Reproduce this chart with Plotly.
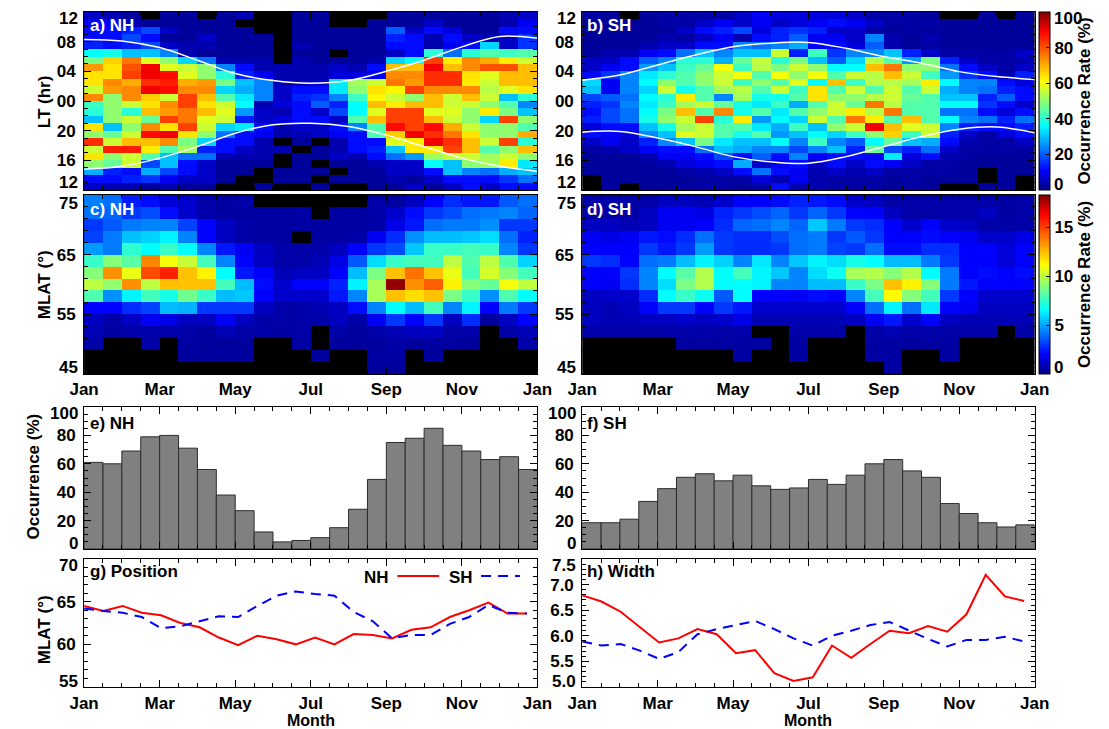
import plotly.graph_objects as go

W, H = 1109, 729
FONT = "Liberation Sans"
K = None  # bin without observations (shown black)

# ---------------- axes / bins ----------------
month_tickvals = [0, 2, 4, 6, 8, 10, 12]
month_ticktext = ["Jan", "Mar", "May", "Jul", "Sep", "Nov", "Jan"]
bin_month = [0.25 + 0.5 * i for i in range(24)]      # half-month bins
lt_bin = [11.5 - i for i in range(24)]               # LT bins, noon at top
mlat_bin = [74 - 2 * i for i in range(15)]           # 2-degree MLAT bins
fit_month = [i * 15.5 / (365.0 / 12) for i in range(24)]  # 15.5-day steps
term_month = list(range(13))

lt_tickvals = [12, 8, 4, 0, -4, -8, -12]
lt_ticktext = ["12", "08", "04", "00", "20", "16", "12"]
mlat_tickvals = [45, 55, 65, 75]
mlat_ticktext = ["45", "55", "65", "75"]
occ_tickvals = [0, 20, 40, 60, 80, 100]
occ_ticktext = ["0", "20", "40", "60", "80", "100"]
pos_tickvals = [55, 60, 65, 70]
pos_ticktext = ["55", "60", "65", "70"]
wid_tickvals = [5.0, 5.5, 6.0, 6.5, 7.0, 7.5]
wid_ticktext = ["5.0", "5.5", "6.0", "6.5", "7.0", "7.5"]
cb1_tickvals = [0, 20, 40, 60, 80, 100]
cb1_ticktext = ["0", "20", "40", "60", "80", "100"]
cb2_tickvals = [0, 5, 10, 15]
cb2_ticktext = ["0", "5", "10", "15"]

# ---------------- occurrence rate vs LT (%), rows from LT 11-12 down to 12-13 ----------------
occ_lt_nh = [
    [6, 4, 2, K, 2, 2, K, 2, 4, K, K, 2, 2, K, K, K, 2, 2, 2, 2, 2, 2, 4, 6],
    [10, 10, 4, 2, 2, 2, 2, 2, K, K, K, 2, 2, K, K, 2, 2, 2, 6, 2, 2, 2, 4, 10],
    [12, 12, 14, 18, 6, 2, 2, 2, 2, K, K, 2, 2, 2, 2, 2, 20, 6, 12, 8, 2, 2, 12, 12],
    [12, 12, 18, 12, 2, 2, 6, 2, 2, 2, K, 2, 2, 2, 2, 2, 14, 12, 4, 12, 6, 4, 6, 16],
    [14, 12, 14, 18, 6, 4, 4, 2, 2, 2, K, 4, 2, 2, 2, 2, 12, 12, 4, 10, 12, 32, 6, 16],
    [36, 38, 30, 30, 24, 4, 2, 2, 2, 2, K, 2, 2, K, 2, 2, 6, 12, 40, 22, 40, 44, 42, 44],
    [48, 66, 76, 58, 50, 32, 22, 4, 4, 4, K, 4, 2, 2, 2, 4, 32, 36, 82, 63, 74, 70, 63, 56],
    [72, 64, 80, 90, 58, 56, 50, 24, 12, 4, 4, 4, 4, 6, 4, 12, 68, 68, 90, 68, 74, 80, 80, 68],
    [64, 64, 82, 90, 88, 58, 50, 40, 14, 10, 4, 4, 4, 8, 8, 10, 74, 74, 84, 84, 64, 58, 68, 68],
    [64, 74, 70, 84, 86, 70, 72, 48, 30, 24, 4, 4, 6, 34, 52, 56, 76, 72, 84, 84, 63, 56, 68, 68],
    [56, 72, 74, 90, 88, 74, 74, 32, 28, 24, 6, 12, 12, 34, 50, 64, 62, 82, 74, 74, 74, 54, 58, 64],
    [74, 50, 74, 66, 56, 82, 68, 44, 34, 24, 6, 14, 16, 24, 42, 62, 56, 50, 68, 56, 68, 56, 30, 40],
    [42, 50, 56, 64, 74, 82, 64, 56, 36, 4, 8, 12, 20, 14, 36, 68, 63, 68, 68, 56, 56, 50, 44, 24],
    [40, 50, 40, 68, 72, 76, 68, 58, 26, 6, 4, 12, 6, 18, 36, 58, 82, 82, 58, 58, 50, 63, 48, 30],
    [30, 50, 56, 46, 82, 76, 58, 56, 14, 6, 8, 12, 12, 6, 44, 68, 82, 82, 68, 56, 50, 32, 82, 50],
    [64, 30, 50, 74, 64, 82, 56, 32, 34, 12, 4, 6, 6, 12, 24, 44, 88, 82, 88, 70, 56, 50, 50, 44],
    [50, 46, 56, 88, 90, 64, 50, 22, 12, 10, 4, 4, 6, 10, 12, 44, 66, 90, 84, 76, 64, 50, 50, 70],
    [84, 56, 68, 68, 74, 48, 32, 12, 12, 4, K, 2, K, 4, 12, 12, 58, 63, 90, 84, 68, 56, 82, 40],
    [56, 86, 86, 63, 44, 52, 14, 12, 6, 4, 4, K, 2, 4, 12, 14, 30, 63, 63, 82, 68, 44, 50, 68],
    [64, 50, 56, 44, 30, 22, 22, 4, 4, 4, K, 2, 2, 6, 4, 12, 22, 26, 52, 56, 56, 52, 56, 50],
    [50, 46, 56, 18, 30, 12, 6, 2, 2, 2, K, 2, K, 2, 2, 4, 6, 6, 36, 30, 50, 52, 63, 34],
    [28, 14, 12, 28, 18, 12, 6, 2, 2, K, 2, 2, 2, K, 2, 2, 6, 6, 12, 30, 24, 22, 28, 30],
    [12, 12, 14, 16, 10, 6, 6, 2, K, K, 2, 2, K, 2, 2, 2, 4, 2, 6, 12, 12, 12, 16, 22],
    [6, 4, 4, 2, 4, 2, 2, K, K, 2, K, K, 2, K, K, 2, 2, 6, 2, 6, 12, 6, 12, 12],
]

occ_lt_sh = [
    [3, 2, K, 2, 3, 3, 3, 3, 6, 10, 8, 8, 8, 8, 6, 3, 3, 3, 2, K, K, 2, K, 2],
    [2, 2, 2, 2, 3, 3, 6, 10, 6, 10, 6, 8, 10, 12, 10, 6, 3, 3, 3, 2, 2, 2, 2, 2],
    [2, 2, 2, 2, 2, 6, 12, 14, 18, 8, 14, 16, 14, 6, 6, 3, 2, 3, 2, 2, 2, 2, 2, 2],
    [2, 2, 2, 2, 4, 3, 6, 10, 4, 12, 14, 20, 10, 10, 6, 24, 4, 2, 4, 2, 2, 2, 2, 2],
    [2, 2, 2, 4, 6, 6, 12, 12, 24, 22, 24, 28, 10, 12, 8, 20, 4, 2, 3, 2, 2, 2, 2, 2],
    [2, 4, 4, 10, 12, 22, 30, 24, 30, 30, 56, 14, 42, 16, 24, 24, 30, 14, 6, 3, 3, 3, 3, 6],
    [6, 6, 12, 20, 24, 40, 40, 28, 46, 55, 40, 48, 30, 20, 32, 54, 44, 26, 48, 14, 6, 3, 3, 4],
    [6, 10, 12, 26, 30, 42, 46, 60, 42, 54, 48, 56, 50, 36, 36, 68, 76, 50, 50, 22, 12, 6, 3, 6],
    [12, 16, 24, 34, 40, 44, 50, 56, 60, 44, 60, 50, 60, 44, 56, 54, 68, 56, 42, 26, 16, 12, 4, 14],
    [32, 10, 24, 36, 50, 44, 50, 56, 42, 50, 44, 58, 36, 68, 42, 54, 54, 52, 63, 36, 24, 24, 12, 8],
    [30, 10, 24, 32, 56, 38, 44, 52, 54, 44, 56, 42, 64, 44, 56, 44, 56, 44, 56, 28, 24, 22, 14, 12],
    [18, 20, 22, 36, 40, 63, 44, 24, 52, 38, 38, 44, 64, 50, 50, 54, 56, 46, 44, 30, 30, 14, 20, 12],
    [14, 16, 24, 34, 42, 52, 56, 46, 38, 34, 42, 28, 44, 56, 46, 76, 54, 44, 44, 36, 36, 16, 12, 6],
    [12, 18, 22, 36, 48, 68, 44, 74, 38, 44, 34, 44, 50, 56, 63, 54, 76, 44, 44, 22, 22, 12, 8, 12],
    [14, 18, 22, 38, 50, 56, 82, 40, 63, 26, 36, 32, 56, 44, 76, 63, 44, 68, 44, 36, 24, 22, 14, 22],
    [8, 12, 12, 30, 38, 52, 56, 44, 44, 34, 28, 42, 30, 50, 56, 90, 68, 58, 56, 24, 14, 12, 12, 14],
    [12, 10, 8, 24, 30, 58, 56, 44, 38, 44, 26, 30, 36, 32, 42, 50, 66, 42, 56, 14, 6, 3, 8, 12],
    [6, 10, 6, 14, 24, 30, 48, 34, 30, 30, 36, 24, 42, 24, 20, 36, 46, 30, 28, 12, 4, 3, 3, 6],
    [3, 4, 6, 10, 12, 12, 22, 30, 28, 24, 24, 18, 24, 30, 14, 46, 18, 14, 22, 6, 3, 3, 3, 3],
    [2, 2, 2, 4, 10, 10, 12, 18, 12, 20, 12, 24, 10, 12, 12, 10, 34, 8, 12, 4, 3, 2, 2, 2],
    [2, 2, 2, 3, 4, 8, 10, 12, 28, 6, 10, 12, 6, 12, 6, 12, 10, 6, 3, 3, 2, 2, 2, 2],
    [2, 2, 2, 2, 2, 3, 4, 6, 12, 22, 12, 10, 4, 6, 4, 6, 3, 3, 3, 3, 2, K, 2, 2],
    [K, 2, 2, 2, 2, 2, 3, 3, 3, 8, 4, 10, 4, 3, 3, 3, 2, 3, 2, 2, 2, K, 2, K],
    [K, 3, K, 2, 2, 3, 3, 3, 2, 3, 12, 4, 4, 3, 3, 3, 2, 3, 2, K, K, 2, 2, K],
]

# ---------------- occurrence rate vs MLAT (%), rows from 73-75 down to 45-47 ----------------
occ_mlat_nh = [
    [4.3, 4, 2.5, 2.2, 1.4, 1.2, 0.6, 0.5, 0.6, K, K, K, K, K, K, 0.6, 0.5, 1, 2, 2.8, 2.4, 2.4, 3.6, 4],
    [4, 3.8, 3, 3.4, 2.2, 1.2, 0.6, 0.5, 0.5, 0.5, 0.5, 0.6, K, 0.5, 0.5, 0.6, 1.2, 2.2, 3, 3.4, 4, 4.2, 4.4, 3.8],
    [3, 3.6, 4.2, 4.4, 4.4, 3.2, 2, 1, 0.6, 0.5, 0.5, 0.5, 0.5, 0.5, 0.5, 0.6, 1.6, 2.4, 4, 4.2, 4.2, 4.6, 3, 3],
    [3.2, 4.2, 5.5, 5.8, 6.4, 4.4, 2, 1, 0.6, 0.5, 0.5, K, 0.5, 0.5, 0.6, 1.8, 2.8, 4.6, 5.4, 5.4, 5.6, 6, 4, 2.6],
    [4.8, 4.2, 7.4, 6.6, 7.6, 6.6, 4.4, 2.4, 1.8, 1, 0.6, 0.6, 0.6, 1, 2, 3, 3.4, 5.6, 7.6, 7.6, 7.8, 7.6, 4.4, 3],
    [7.6, 9, 8.2, 13.6, 11, 10.2, 7.8, 4.4, 2, 1, 0.6, 0.6, 0.8, 1.6, 3.6, 6, 7.6, 7.8, 7.8, 10, 8, 10, 8, 5.8],
    [9, 13.4, 10.8, 14.8, 15.6, 12.4, 11.4, 6.6, 2.4, 2, 0.8, 1, 1, 2, 5.4, 8.8, 12.4, 14, 12.4, 10.8, 7.8, 10.4, 9, 7.8],
    [10, 9.2, 13.4, 10, 12.4, 12.4, 12.4, 7.8, 5.4, 2.2, 1.2, 2, 2, 2.6, 6.4, 9.6, 18, 13.4, 14.4, 11.4, 9, 8.4, 11, 10],
    [8, 4.6, 6.4, 7.8, 7, 8.6, 7.6, 5.4, 5.6, 2, 1.2, 1.2, 1.2, 2.4, 4.4, 9.6, 12.4, 11.8, 12.4, 8.8, 7.6, 4.6, 8, 6.6],
    [2, 2, 2.8, 3.2, 5.4, 5.2, 3, 3, 3, 1, 0.6, 0.6, 0.8, 1, 2.2, 4.4, 6.6, 5.4, 7.8, 4.4, 6.4, 2, 4.2, 3],
    [1, 0.6, 1, 1.8, 1.6, 1, 1, 1.8, 1, 0.6, 0.6, 0.6, 0.6, 1, 0.6, 1.8, 3, 2, 3, 1, 2.8, 0.4, 1, 2],
    [0.8, 0.5, 0.6, 0.6, 0.6, 0.6, 0.4, 0.8, 0.6, 0.6, 0.5, 0.6, K, 0.6, 0.4, 0.6, 0.8, 1, 1, 0.6, 0.6, K, 0.6, 0.8],
    [0.6, K, K, 0.6, K, 0.5, 0.4, 0.4, 0.4, K, K, 0.5, K, 0.4, 0.4, 0.4, 0.6, 0.4, 0.5, 0.5, 0.4, K, K, 0.6],
    [K, K, K, K, K, 0.4, 0.4, 0.4, 0.4, K, K, K, 0.4, K, K, 0.5, 0.5, K, 0.4, K, K, K, K, K],
    [K, K, K, K, K, K, K, K, K, K, K, K, K, K, K, 0.4, 0.4, K, K, K, K, K, K, K],
]

occ_mlat_sh = [
    [0.6, 0.6, 0.6, 0.6, 1, 1, 0.8, 1.2, 2, 2, 2.2, 2.6, 2.4, 2.2, 1.2, 1, 0.6, 0.6, 0.6, 0.6, 0.6, 0.6, 0.5, 0.6],
    [0.6, 0.6, 0.6, 1, 1.8, 1.8, 1.6, 2.6, 3, 3.4, 3.8, 3, 3.8, 3, 2, 2, 1, 0.6, 0.6, 0.6, 0.6, 1, 0.5, 0.6],
    [1, 1, 0.8, 1, 1.8, 1.8, 2, 2.8, 3.8, 4, 4.4, 3.8, 5.6, 4.2, 3, 2.8, 2, 1.2, 2, 1.2, 1, 0.6, 0.6, 0.6],
    [1.8, 1.6, 1.8, 2.4, 2.2, 2.8, 4, 3, 2.8, 2.8, 3.4, 4, 4.2, 3, 3.6, 3, 2, 2, 2.2, 2, 1.8, 1.2, 1.2, 1.6],
    [2, 2, 2, 3, 2.4, 3, 4.8, 3, 2.8, 2.8, 3, 4, 4.2, 3.2, 3, 4, 2.2, 2.2, 2.8, 2.8, 2, 2, 1.4, 2],
    [3, 2.8, 2, 4, 4.2, 5.4, 6.4, 5.8, 4.4, 6.2, 4.4, 5.6, 6.4, 6, 7, 6.6, 5.4, 5.4, 4.2, 3, 2, 2, 1.4, 2],
    [2, 2, 3, 4.4, 6.6, 8.2, 9.8, 6.6, 7.8, 6.4, 5.6, 4.4, 6, 6.8, 9.6, 9.8, 9, 9.8, 6.6, 4.2, 2, 2.2, 2, 2.2],
    [2, 1.8, 2.8, 4.4, 6, 8.8, 9.8, 6.6, 6.6, 6.4, 4.4, 4.4, 5.4, 5.4, 7.6, 8.8, 12.4, 11.4, 9, 4.2, 2.4, 2, 2, 2],
    [1, 1.2, 1.2, 2.8, 6.6, 7.6, 6.8, 3.6, 6.6, 2, 2, 1.8, 2.2, 2, 4.4, 7.8, 11.2, 9, 7.8, 3, 2, 1.2, 1.2, 1.2],
    [1, 0.8, 1, 2, 3, 3, 2, 3, 2.4, 1.2, 1.2, 1.2, 1.2, 1.2, 2, 4, 6.4, 4, 6.2, 2, 1.8, 1, 1, 1],
    [1, 0.8, 0.8, 1, 1, 1.2, 1, 1.2, 1.6, 0.8, 0.8, 0.8, 0.8, 0.8, 1, 1.8, 2.4, 1.2, 2, 1, 0.8, 0.8, 0.8, 0.8],
    [0.6, 0.6, 0.6, 0.6, 0.6, 0.6, 0.6, 0.6, 0.6, K, K, 0.6, 0.6, 0.6, K, 0.6, 0.8, 0.6, 0.6, 0.6, 0.6, 0.6, K, 0.6],
    [K, K, K, K, K, 0.5, 0.5, 0.5, 0.5, 0.5, K, 0.5, K, K, K, 0.5, 0.5, 0.5, 0.5, 0.5, K, K, K, K],
    [K, K, K, K, K, K, K, K, 0.5, K, K, 0.5, K, K, K, 0.5, 0.5, K, K, 0.5, K, K, K, K],
    [K, K, K, K, K, K, K, K, K, K, K, K, K, K, K, K, 0.5, K, K, K, K, K, K, K],
]

# ---------------- dawn / dusk terminator LT (hours), 1st of each month ----------------
term_nh_dawn = [8.3, 8.1, 7.2, 5.5, 3.7, 2.75, 2.4, 2.75, 4.0, 5.5, 7.3, 8.7, 8.45]
term_nh_dusk = [-9.2, -8.8, -7.7, -6.15, -4.35, -3.2, -3.0, -3.45, -4.6, -6.15, -7.7, -8.8, -9.5]
term_sh_dawn = [2.8, 3.5, 4.86, 6.2, 7.33, 7.8, 7.9, 7.1, 6.0, 5.1, 3.96, 3.3, 2.9]
term_sh_dusk = [-4.2, -4.1, -5.0, -6.15, -7.5, -8.2, -8.4, -7.5, -6.15, -4.8, -3.8, -3.5, -4.3]

# ---------------- occurrence (%) per half month ----------------
occ_nh = [61, 60, 69, 79, 80, 71, 56, 38, 27, 12, 5, 6, 8, 15, 28, 49, 75, 78, 85, 73, 69, 63, 65, 56]
occ_sh = [18.5, 18.5, 21, 33.5, 42.5, 50.5, 53, 48, 52, 44.5, 42, 43, 49, 45.5, 52, 60, 63, 55, 50.5, 32, 25, 18.5, 15.5, 17]

# ---------------- fitted position and width (deg MLAT) ----------------
pos_nh = [64.5, 63.9, 64.5, 63.7, 63.4, 62.5, 62.0, 60.8, 59.9, 61.0, 60.6, 60.0,
          60.8, 60.0, 61.2, 61.1, 60.7, 61.7, 62.0, 63.2, 64.0, 64.9, 63.6, 63.6]
pos_sh = [64.2, 63.9, 63.7, 63.2, 61.9, 62.1, 62.7, 63.3, 63.2, 64.5, 65.7, 66.2,
          65.9, 65.7, 63.8, 62.7, 60.7, 61.1, 61.1, 62.4, 63.2, 64.6, 63.7, 63.6]
width_nh = [6.79, 6.67, 6.47, 6.17, 5.87, 5.95, 6.13, 6.03, 5.66, 5.72, 5.27, 5.12,
            5.19, 5.81, 5.57, 5.84, 6.10, 6.05, 6.19, 6.08, 6.42, 7.19, 6.77, 6.68]
width_sh = [5.89, 5.81, 5.84, 5.71, 5.55, 5.68, 6.03, 6.13, 6.21, 6.29, 6.13, 5.95,
            5.81, 6.00, 6.10, 6.21, 6.27, 6.10, 5.94, 5.79, 5.92, 5.92, 5.98, 5.89]

JET = [[0.0, "rgb(0,0,131)"], [0.11, "rgb(0,0,255)"], [0.36, "rgb(0,255,255)"],
       [0.61, "rgb(255,255,0)"], [0.89, "rgb(255,0,0)"], [1.0, "rgb(128,0,0)"]]

FS = 17
TICKFONT = dict(family=FONT, size=FS, color="black", weight="bold")
LABELFONT = dict(family=FONT, size=FS, weight="bold")


def px_x(p):
    return p / W


def px_y(p):
    return 1 - p / H


# panel edges in pixels
L_LEFT, L_RIGHT = 71, 537
R_LEFT, R_RIGHT = 583, 1048
A_TOP, A_BOT = 12, 190
C_TOP, C_BOT = 195, 374
E_TOP, E_BOT = 407, 549
G_TOP, G_BOT = 559, 687
CB_LEFT = 1052

COL_L = [px_x(L_LEFT), px_x(L_RIGHT)]
COL_R = [px_x(R_LEFT), px_x(R_RIGHT)]
ROW_A = [px_y(A_BOT), px_y(A_TOP)]
ROW_C = [px_y(C_BOT), px_y(C_TOP)]
ROW_E = [px_y(E_BOT), px_y(E_TOP)]
ROW_G = [px_y(G_BOT), px_y(G_TOP)]


def inner(texts):
    """Tick texts with the two end labels left blank (drawn nudged inside instead)."""
    return [""] + list(texts[1:-1]) + [""]


def x_axis(domain, anchor, labels, standoff=3):
    return dict(domain=domain, anchor=anchor, range=[0, 12], tickmode="array",
                tickvals=month_tickvals, ticktext=month_ticktext, showticklabels=labels,
                ticks="inside", ticklen=7, tickwidth=1, tickcolor="black",
                showline=True, linecolor="black", linewidth=1, mirror="ticks",
                showgrid=False, zeroline=False, tickfont=TICKFONT,
                ticklabelstandoff=standoff,
                minor=dict(tickmode="linear", tick0=0, dtick=0.5, ticks="inside",
                           ticklen=4, tickcolor="black", showgrid=False))


def y_axis(domain, anchor, rng, tickvals, ticktext, minor_dtick, minor_tick0):
    return dict(domain=domain, anchor=anchor, range=rng, tickmode="array",
                tickvals=tickvals, ticktext=inner(ticktext), ticks="inside", ticklen=7,
                tickwidth=1, tickcolor="black", showline=True, linecolor="black",
                linewidth=1, mirror="ticks", showgrid=False, zeroline=False,
                tickfont=TICKFONT, ticklabelstandoff=4,
                minor=dict(tickmode="linear", tick0=minor_tick0, dtick=minor_dtick,
                           ticks="inside", ticklen=4, tickcolor="black", showgrid=False))


def colorbar(yc, length, tickvals, ticktext):
    return dict(x=px_x(CB_LEFT), xanchor="left", xpad=0, ypad=0, y=px_y(yc),
                yanchor="middle", len=length / H, lenmode="fraction", thickness=11,
                thicknessmode="pixels", outlinecolor="black", outlinewidth=1,
                tickmode="array", tickvals=tickvals, ticktext=ticktext, ticks="inside",
                ticklen=4, tickcolor="black", tickfont=TICKFONT,
                title=dict(text="Occurrence Rate (%)", side="right", font=TICKFONT))


fig = go.Figure()

# heatmaps (rows reversed so y increases)
heat = [
    (occ_lt_nh, lt_bin, "x", "y", "coloraxis"),
    (occ_lt_sh, lt_bin, "x2", "y2", "coloraxis"),
    (occ_mlat_nh, mlat_bin, "x3", "y3", "coloraxis2"),
    (occ_mlat_sh, mlat_bin, "x4", "y4", "coloraxis2"),
]
for z, ybins, xa, ya, ca in heat:
    fig.add_trace(go.Heatmap(z=z[::-1], x=bin_month, y=ybins[::-1], xaxis=xa, yaxis=ya,
                             coloraxis=ca, hoverongaps=False))

# terminator curves
for dawn, dusk, xa, ya in [(term_nh_dawn, term_nh_dusk, "x", "y"),
                           (term_sh_dawn, term_sh_dusk, "x2", "y2")]:
    for curve in (dawn, dusk):
        fig.add_trace(go.Scatter(x=term_month, y=curve, xaxis=xa, yaxis=ya, mode="lines",
                                 line=dict(color="white", width=1.5, shape="spline"),
                                 hoverinfo="skip"))

# occurrence bars
for vals, xa, ya in [(occ_nh, "x5", "y5"), (occ_sh, "x6", "y6")]:
    fig.add_trace(go.Bar(x=bin_month, y=vals, width=0.5, xaxis=xa, yaxis=ya,
                         marker=dict(color="rgb(128,128,128)",
                                     line=dict(color="rgb(45,45,45)", width=1))))

# position and width
for nh, sh, xa, ya in [(pos_nh, pos_sh, "x7", "y7"), (width_nh, width_sh, "x8", "y8")]:
    fig.add_trace(go.Scatter(x=fit_month, y=nh, xaxis=xa, yaxis=ya, mode="lines",
                             line=dict(color="rgb(255,0,0)", width=2)))
    fig.add_trace(go.Scatter(x=fit_month, y=sh, xaxis=xa, yaxis=ya, mode="lines",
                             line=dict(color="rgb(0,0,255)", width=2, dash="10px,7px")))

layout = dict(
    width=W, height=H, margin=dict(l=0, r=0, t=0, b=0), showlegend=False,
    paper_bgcolor="white", plot_bgcolor="white", font=dict(family=FONT, color="black"),
    barmode="overlay",
    coloraxis=dict(colorscale=JET, cmin=0, cmax=100,
                   colorbar=colorbar((A_TOP + A_BOT) / 2, A_BOT - A_TOP,
                                     cb1_tickvals, inner(cb1_ticktext))),
    coloraxis2=dict(colorscale=JET, cmin=0, cmax=18.3,
                    colorbar=colorbar((C_TOP + C_BOT) / 2, C_BOT - C_TOP,
                                      cb2_tickvals, [""] + cb2_ticktext[1:])),
    xaxis=x_axis(COL_L, "y", False),
    yaxis=y_axis(ROW_A, "x", [-12, 12], lt_tickvals, lt_ticktext, 1, 0),
    xaxis2=x_axis(COL_R, "y2", False),
    yaxis2=y_axis(ROW_A, "x2", [-12, 12], lt_tickvals, lt_ticktext, 1, 0),
    xaxis3=x_axis(COL_L, "y3", True, 0),
    yaxis3=y_axis(ROW_C, "x3", [45, 75], mlat_tickvals, mlat_ticktext, 2, 45),
    xaxis4=x_axis(COL_R, "y4", True, 0),
    yaxis4=y_axis(ROW_C, "x4", [45, 75], mlat_tickvals, mlat_ticktext, 2, 45),
    xaxis5=x_axis(COL_L, "y5", False),
    yaxis5=y_axis(ROW_E, "x5", [0, 100], occ_tickvals, occ_ticktext, 5, 0),
    xaxis6=x_axis(COL_R, "y6", False),
    yaxis6=y_axis(ROW_E, "x6", [0, 100], occ_tickvals, occ_ticktext, 5, 0),
    xaxis7=x_axis(COL_L, "y7", True, 1),
    yaxis7=y_axis(ROW_G, "x7", [55, 70], pos_tickvals, pos_ticktext, 1, 55),
    xaxis8=x_axis(COL_R, "y8", True, 1),
    yaxis8=y_axis(ROW_G, "x8", [5, 7.5], wid_tickvals, wid_ticktext, 0.1, 5),
)
fig.update_layout(**layout)

# black background behind heatmap panels (empty bins)
shapes = []
for xa, ya in [("x", "y"), ("x2", "y2"), ("x3", "y3"), ("x4", "y4")]:
    shapes.append(dict(type="rect", xref=f"{xa} domain", yref=f"{ya} domain",
                       x0=0, x1=1, y0=0, y1=1, fillcolor="black", line=dict(width=0),
                       layer="below"))

# legend samples in panel g
shapes.append(dict(type="line", xref="paper", yref="paper", x0=px_x(393), x1=px_x(436),
                   y0=px_y(576), y1=px_y(576), line=dict(color="rgb(255,0,0)", width=2)))
shapes.append(dict(type="line", xref="paper", yref="paper", x0=px_x(479), x1=px_x(519),
                   y0=px_y(576), y1=px_y(576),
                   line=dict(color="rgb(0,0,255)", width=2, dash="10px,7px")))
fig.update_layout(shapes=shapes)

ann = []


def label(text, x, y, color="black", angle=0, xanchor="left", size=FS):
    ann.append(dict(text=text, x=px_x(x), y=px_y(y), xref="paper", yref="paper",
                    showarrow=False, xanchor=xanchor, yanchor="middle", textangle=angle,
                    borderpad=0, font=dict(LABELFONT, color=color, size=size)))


label("a) NH", 76, 26, "white")
label("b) SH", 587, 26, "white")
label("c) NH", 76, 209, "white")
label("d) SH", 587, 209, "white")
label("e) NH", 76, 423)
label("f) SH", 587, 423)
label("g) Position", 76, 571)
label("h) Width", 587, 571)
label("NH", 385, 577, xanchor="right")
label("SH", 472, 577, xanchor="right")
label("LT (hr)", 30, 102, angle=-90, xanchor="center")
label("MLAT (°)", 30, 285, angle=-90, xanchor="center")
label("Occurrence (%)", 20, 476, angle=-90, xanchor="center")
label("MLAT (°)", 30, 630, angle=-90, xanchor="center")
label("Month", 304, 720, xanchor="center", size=16)
label("Month", 815, 720, xanchor="center", size=16)

# end-of-axis tick labels, nudged inside the panel
NUDGE = 6
for texts, ytop, ybot in [
    (lt_ticktext, A_TOP + NUDGE, A_BOT - NUDGE - 2),
    (mlat_ticktext[::-1], C_TOP + NUDGE + 2, C_BOT - NUDGE),
    (occ_ticktext[::-1], E_TOP + NUDGE, E_BOT - NUDGE),
]:
    for left in (L_LEFT, R_LEFT):
        label(texts[0], left - 5, ytop, xanchor="right")
        label(texts[-1], left - 5, ybot, xanchor="right")
# position (left) and width (right) axes
label(pos_ticktext[-1], L_LEFT - 5, G_TOP + NUDGE, xanchor="right")
label(pos_ticktext[0], L_LEFT - 5, G_BOT - NUDGE, xanchor="right")
label(wid_ticktext[-1], R_LEFT - 5, G_TOP + NUDGE, xanchor="right")
label(wid_ticktext[0], R_LEFT - 5, G_BOT - NUDGE, xanchor="right")
# colour bar end labels
label(cb1_ticktext[-1], CB_LEFT + 15, A_TOP + NUDGE)
label(cb1_ticktext[0], CB_LEFT + 15, A_BOT - NUDGE)
label(cb2_ticktext[0], CB_LEFT + 15, C_BOT - NUDGE)
fig.update_layout(annotations=ann)

fig.write_html("out.html")
